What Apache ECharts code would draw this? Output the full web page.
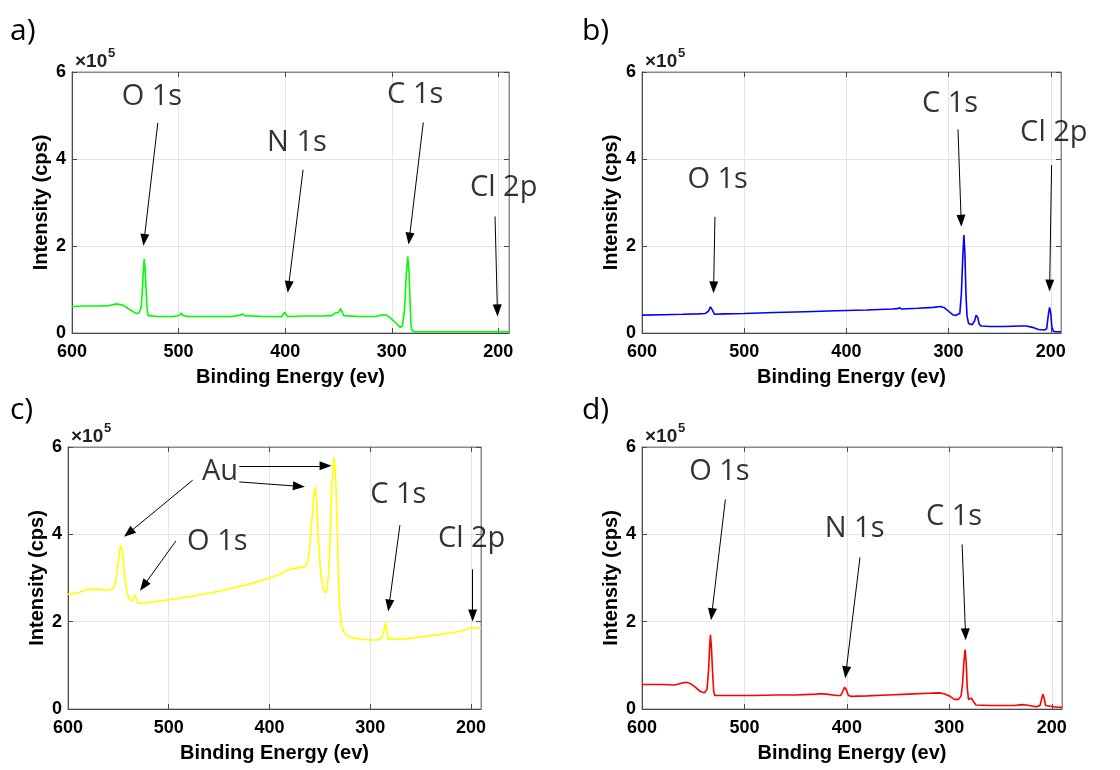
<!DOCTYPE html>
<html><head><meta charset="utf-8">
<script src="https://cdn.jsdelivr.net/npm/echarts@6/dist/echarts.min.js"></script>
<style>html,body{margin:0;padding:0;background:#fff}#c{width:1120px;height:770px}</style>
</head><body><div id="c"></div>
<script>
// ---- tick labels ----
const xTickValues = [200, 300, 400, 500, 600];
const yTickValues = [0, 2, 4, 6];
const xAxisName = 'Binding Energy (ev)';
const yAxisName = 'Intensity (cps)';
const panelLetters = ['a)', 'b)', 'c)', 'd)'];

// ---- panel a (green) : binding energy (eV), intensity (x10^5 cps) ----
const energyA = [600,590,575,565,558,552,546,540,537,535,534,533,532.3,531.5,530.5,529.5,528.5,520,505,499,497.5,496,490,470,450,442,440,438,420,403,400.5,398,380,365,356,353,350,348,347,346,345,330,315,308,305,300,295,292,290,288,286.5,285,283.8,282.8,282,281,279,250,220,190];
const intensityA = [0.61,0.62,0.62,0.63,0.67,0.64,0.54,0.45,0.46,0.60,1.00,1.45,1.70,1.50,1.00,0.55,0.40,0.38,0.38,0.41,0.46,0.40,0.38,0.38,0.38,0.41,0.44,0.40,0.38,0.38,0.48,0.38,0.39,0.39,0.40,0.46,0.47,0.56,0.57,0.45,0.40,0.38,0.38,0.42,0.41,0.32,0.20,0.13,0.16,0.55,1.30,1.76,1.40,0.70,0.20,0.06,0.03,0.03,0.03,0.03];
const labelsA = [['O 1s', 525, 5.44], ['N 1s', 389, 4.37], ['C 1s', 278, 5.48], ['Cl 2p', 195, 3.34]];
const arrowsA = [[519.5, 4.83, 532.3, 2.14], [383.2, 3.75, 396.9, 1.06], [270.4, 4.84, 283.5, 2.17], [203.1, 2.68, 200.9, 0.52]];

// ---- panel b (blue) ----
const energyB = [600,580,560,545,538,535,533,531,529,520,500,470,440,410,380,355,350,348,346,330,315,308,304,300,296,293,291,289,287.5,286,285,284,283,282,280.5,277,274.5,273,271.5,270,268,260,245,230,224,218,212,206,204,202.5,201.2,200,199,197.5,195,190];
const intensityB = [0.41,0.42,0.43,0.44,0.45,0.50,0.60,0.52,0.43,0.44,0.45,0.47,0.49,0.51,0.53,0.55,0.56,0.58,0.55,0.57,0.59,0.61,0.58,0.50,0.42,0.40,0.43,0.45,0.90,1.80,2.25,1.80,0.90,0.40,0.22,0.19,0.28,0.41,0.36,0.20,0.16,0.15,0.15,0.16,0.16,0.13,0.08,0.07,0.10,0.40,0.59,0.45,0.15,0.04,0.03,0.03];
const labelsB = [['O 1s', 526, 3.52], ['C 1s', 298.6, 5.28], ['Cl 2p', 197, 4.60]];
const arrowsB = [[528.6, 2.67, 529.9, 1.05], [290.8, 4.68, 287.7, 2.58], [199.2, 3.86, 201.1, 1.09]];

// ---- panel c (yellow) ----
const energyC = [600,590,580,570,560,555,552,550,548,546,544,542,540,537.5,535,533.5,532,530,528,520,500,480,460,440,420,400,390,380,375,365,362,360,358,356,354.5,353,351.5,349.5,347,345,343,341,339.5,338,336,334.5,333,332,330.5,328.5,325,320,310,300,293,289,287,285.5,284.7,283.5,282.3,280.5,270,255,240,220,205,200,196,190];
const intensityC = [2.63,2.66,2.74,2.74,2.72,2.76,3.00,3.40,3.75,3.60,3.10,2.75,2.55,2.47,2.52,2.61,2.52,2.42,2.41,2.44,2.50,2.57,2.65,2.75,2.86,3.00,3.08,3.20,3.22,3.26,3.36,3.70,4.30,4.90,5.09,4.70,3.90,3.20,2.80,2.66,2.70,3.20,4.20,5.20,5.77,5.40,4.40,3.40,2.40,1.90,1.72,1.64,1.60,1.58,1.58,1.62,1.72,1.90,1.98,1.80,1.60,1.58,1.60,1.63,1.68,1.74,1.81,1.87,1.85,1.86];
const labelsC = [['Au', 449.1, 5.43], ['O 1s', 451.8, 3.83], ['C 1s', 272.1, 4.90], ['Cl 2p', 199.3, 3.91]];
const arrowsC = [[476.2, 5.24, 539.8, 4.03], [430, 5.57, 344.3, 5.57], [430, 5.20, 370.8, 5.10], [492.8, 3.85, 525.0, 2.82], [270.5, 4.21, 281.3, 2.37], [198.3, 3.20, 198.3, 2.14]];

// ---- panel d (red) ----
const energyD = [600,580,568,560,556,552,548,543,539,536.5,535,534,533.2,532.2,531,530,529,510,490,470,450,430,426,420,410,406,404,402.2,400.5,398.5,396,380,360,340,320,310,305,300,295,291,288.5,287,285.7,284.6,283.5,282.5,281.3,279.5,278.4,276.5,274,260,245,236,230,225,215,211.5,210,208.7,207.5,206,204.5,195,190];
const intensityD = [0.56,0.56,0.55,0.60,0.61,0.57,0.50,0.40,0.37,0.45,0.90,1.40,1.70,1.40,0.80,0.40,0.31,0.31,0.31,0.32,0.32,0.34,0.35,0.34,0.31,0.31,0.40,0.50,0.44,0.31,0.29,0.30,0.32,0.34,0.36,0.37,0.35,0.30,0.22,0.22,0.30,0.60,1.10,1.36,1.05,0.50,0.22,0.22,0.25,0.17,0.09,0.08,0.08,0.08,0.10,0.09,0.05,0.08,0.22,0.34,0.25,0.08,0.04,0.04,0.04];
const labelsD = [['O 1s', 524.4, 5.43], ['N 1s', 392.5, 4.13], ['C 1s', 295.4, 4.40]];
const arrowsD = [[518.6, 4.80, 531.9, 2.17], [387.2, 3.47, 400.9, 0.84], [287.5, 3.77, 284.2, 1.71]];

const panels = [
  {E: energyA, I: intensityA, color: '#00ff00', labels: labelsA, arrows: arrowsA, box: [72, 72, 437, 261]},
  {E: energyB, I: intensityB, color: '#0000ff', labels: labelsB, arrows: arrowsB, box: [642, 72, 419, 261]},
  {E: energyC, I: intensityC, color: '#ffff00', labels: labelsC, arrows: arrowsC, box: [68, 447, 413, 262]},
  {E: energyD, I: intensityD, color: '#ff0000', labels: labelsD, arrows: arrowsD, box: [642, 447, 420, 262]}
];

const tickFont = {fontFamily: '"Liberation Sans", Arial, sans-serif', fontWeight: 'bold', fontSize: 18, color: '#000'};
const nameFont = {fontFamily: '"Liberation Sans", Arial, sans-serif', fontWeight: 'bold', fontSize: 20, color: '#000'};
const annFont = '"Open Sans", "Noto Sans", sans-serif';
const axisColor = '#4a4a4a';

const option = {animation: false, grid: [], xAxis: [], yAxis: [], series: [], graphic: []};

panels.forEach((p, i) => {
  const [l, t, w, h] = p.box;
  option.grid.push({left: l, top: t, width: w, height: h, show: true, borderColor: '#8a8a8a', borderWidth: 1, backgroundColor: 'transparent'});
  const xi = option.xAxis.length;
  option.xAxis.push({
    gridIndex: i, type: 'value', inverse: true, min: 190, max: 600, position: 'bottom',
    name: xAxisName, nameLocation: 'middle', nameGap: 34, nameTextStyle: nameFont,
    axisLine: {show: true, onZero: false, lineStyle: {color: axisColor, width: 1}},
    axisTick: {show: true, inside: true, length: 5, customValues: xTickValues, lineStyle: {color: axisColor}},
    axisLabel: {show: true, margin: 10, customValues: xTickValues, ...tickFont},
    splitLine: {show: true, lineStyle: {color: '#e4e4e4', width: 1}}
  });
  option.xAxis.push({
    gridIndex: i, type: 'value', inverse: true, min: 190, max: 600, position: 'top',
    axisLine: {show: true, onZero: false, lineStyle: {color: '#8a8a8a', width: 1}},
    axisTick: {show: true, inside: true, length: 5, customValues: xTickValues, lineStyle: {color: axisColor}},
    axisLabel: {show: false}, splitLine: {show: false}
  });
  const yi = option.yAxis.length;
  option.yAxis.push({
    gridIndex: i, type: 'value', min: 0, max: 6, interval: 2, position: 'left',
    name: yAxisName, nameLocation: 'middle', nameGap: 21, nameRotate: 90, nameTextStyle: nameFont,
    axisLine: {show: true, onZero: false, lineStyle: {color: axisColor, width: 1}},
    axisTick: {show: true, inside: true, length: 5, lineStyle: {color: axisColor}},
    axisLabel: {show: true, margin: 6, ...tickFont},
    splitLine: {show: true, lineStyle: {color: '#e4e4e4', width: 1}}
  });
  option.yAxis.push({
    gridIndex: i, type: 'value', min: 0, max: 6, interval: 2, position: 'right',
    axisLine: {show: true, onZero: false, lineStyle: {color: '#8a8a8a', width: 1}},
    axisTick: {show: true, inside: true, length: 5, lineStyle: {color: axisColor}},
    axisLabel: {show: false}, splitLine: {show: false}
  });

  option.series.push({
    type: 'line', xAxisIndex: xi, yAxisIndex: yi, silent: true, z: 3,
    data: p.E.map((e, k) => [e, p.I[k]]),
    showSymbol: false, symbol: 'none',
    lineStyle: {color: p.color, width: 1.6}, itemStyle: {color: p.color},
    emphasis: {disabled: true},
    markLine: {
      silent: true, symbol: ['none', 'triangle'], symbolSize: [9, 12],
      lineStyle: {color: '#000', width: 1, type: 'solid'},
      itemStyle: {color: '#000'},
      label: {show: false}, emphasis: {disabled: true},
      data: p.arrows.map(a => [{coord: [a[0], a[1]]}, {coord: [a[2], a[3]]}])
    }
  });
  option.series.push({
    type: 'scatter', xAxisIndex: xi, yAxisIndex: yi, silent: true, z: 5, clip: false,
    symbolSize: 1, itemStyle: {color: 'rgba(0,0,0,0)'},
    label: {show: true, position: 'inside', formatter: '{b}', fontFamily: annFont, fontSize: 29, color: '#000'},
    labelLayout: {hideOverlap: false},
    emphasis: {disabled: true},
    data: p.labels.map(s => ({name: s[0], value: [s[1], s[2]]}))
  });

  // panel letter and exponent marker
  const letterX = i % 2 === 0 ? 10 : 582;
  const letterY = i < 2 ? 31 : 410;
  option.graphic.push({type: 'text', x: letterX, y: letterY, style: {text: panelLetters[i], font: '30px "Open Sans"', fill: '#000', verticalAlign: 'middle'}});
  option.graphic.push({type: 'text', x: l + 3, y: t - 10, style: {text: '×10', font: 'bold 19px "Liberation Sans"', fill: '#222', verticalAlign: 'middle'}});
  option.graphic.push({type: 'text', x: l + 36, y: t - 19, style: {text: '5', font: 'bold 13px "Liberation Sans"', fill: '#222', verticalAlign: 'middle'}});
});

const chart = echarts.init(document.getElementById('c'), null, {renderer: 'canvas'});
chart.setOption(option);
</script>
</body></html>
